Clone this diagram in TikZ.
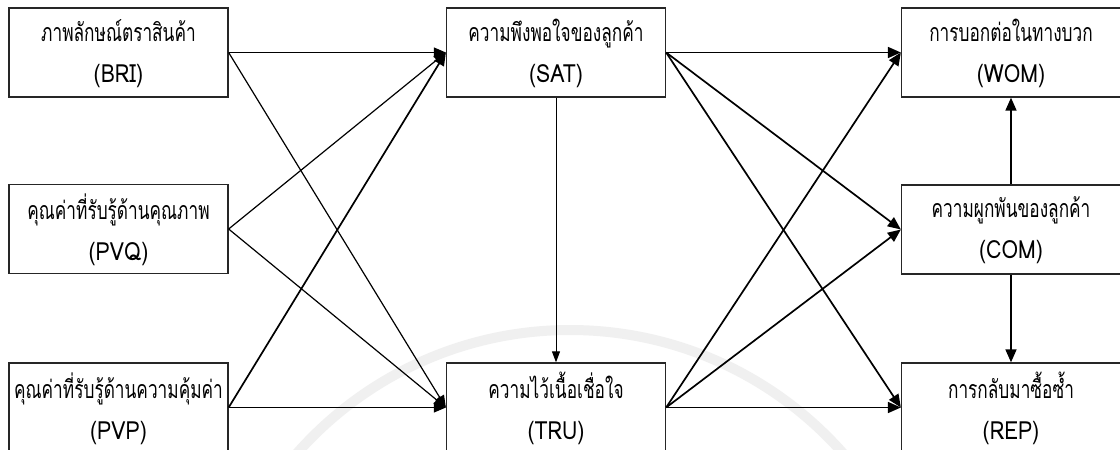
\documentclass[tikz,border=0pt]{standalone}
\usepackage{fontspec}
\newfontfamily\thaifont[Script=Thai,FakeStretch=0.69]{Loma}
\newfontfamily\latnfont[FakeStretch=0.85]{Loma}
\newcommand{\boxtext}[2]{{\thaifont #1}\\{\latnfont #2}}
\usetikzlibrary{arrows.meta}
\begin{document}
\begin{tikzpicture}[x=1pt,y=-1pt,
  box/.style={draw=black!85, line width=1.3pt, fill=white, minimum width=219pt, minimum height=89pt, inner sep=0pt},
  txt/.style={inner sep=0pt, align=center, font=\fontsize{25}{41}\selectfont},
  thin/.style={line width=1.2pt, -{Triangle[length=12pt,width=10pt]}},
  thick/.style={line width=1.7pt, -{Triangle[length=13pt,width=11pt]}},
  small/.style={line width=1pt, -{Triangle[length=11pt,width=8pt]}}]
\useasboundingbox (0,0) rectangle (1120,450);
\clip (0,0) rectangle (1120,450);
\fill[white] (0,0) rectangle (1120,450);
% faint watermark arc
\draw[black!6, line width=10pt] (570,694) circle[radius=364];
% boxes
\node[box] (BRI) at (118.5,52.5) {};
\node[box] (PVQ) at (118.5,229) {};
\node[box] (PVP) at (118.5,407.5) {};
\node[box] (SAT) at (556,52.5) {};
\node[box] (TRU) at (556,407.5) {};
\node[box] (WOM) at (1011,52.5) {};
\node[box] (COM) at (1011,229.5) {};
\node[box] (REP) at (1011,407.5) {};
\node[txt] (BRIt) at ([yshift=-1pt]BRI.center) {\boxtext{ภาพลักษณ์ตราสินค้า}{(BRI)}};
\node[txt] (PVQt) at ([yshift=-1pt]PVQ.center) {\boxtext{คุณค่าที่รับรู้ด้านคุณภาพ}{(PVQ)}};
\node[txt] (PVPt) at ([yshift=-1pt]PVP.center) {\boxtext{คุณค่าที่รับรู้ด้านความคุ้มค่า}{(PVP)}};
\node[txt] (SATt) at ([yshift=-1pt]SAT.center) {\boxtext{ความพึงพอใจของลูกค้า}{(SAT)}};
\node[txt] (TRUt) at ([yshift=-1pt]TRU.center) {\boxtext{ความไว้เนื้อเชื่อใจ}{(TRU)}};
\node[txt] (WOMt) at ([yshift=-1pt]WOM.center) {\boxtext{การบอกต่อในทางบวก}{(WOM)}};
\node[txt] (COMt) at ([yshift=-1pt]COM.center) {\boxtext{ความผูกพันของลูกค้า}{(COM)}};
\node[txt] (REPt) at ([yshift=-1pt]REP.center) {\boxtext{การกลับมาซื้อซ้ำ}{(REP)}};
% left connectors
\draw[thin] (BRI.east) -- (SAT.west);
\draw[thin] (BRI.east) -- (TRU.west);
\draw[thin] (PVQ.east) -- (SAT.west);
\draw[thin] (PVQ.east) -- (TRU.west);
\draw[thick] (PVP.east) -- (SAT.west);
\draw[thin] (PVP.east) -- (TRU.west);
\draw[small] (SAT.south) -- (TRU.north);
% right connectors
\draw[thick] (SAT.east) -- (WOM.west);
\draw[thick] (SAT.east) -- (COM.west);
\draw[thick] (SAT.east) -- (REP.west);
\draw[thick] (TRU.east) -- (WOM.west);
\draw[thick] (TRU.east) -- (COM.west);
\draw[thick] (TRU.east) -- (REP.west);
\draw[thick] (COM.north) -- (WOM.south);
\draw[thick] (COM.south) -- (REP.north);
\end{tikzpicture}
\end{document}
